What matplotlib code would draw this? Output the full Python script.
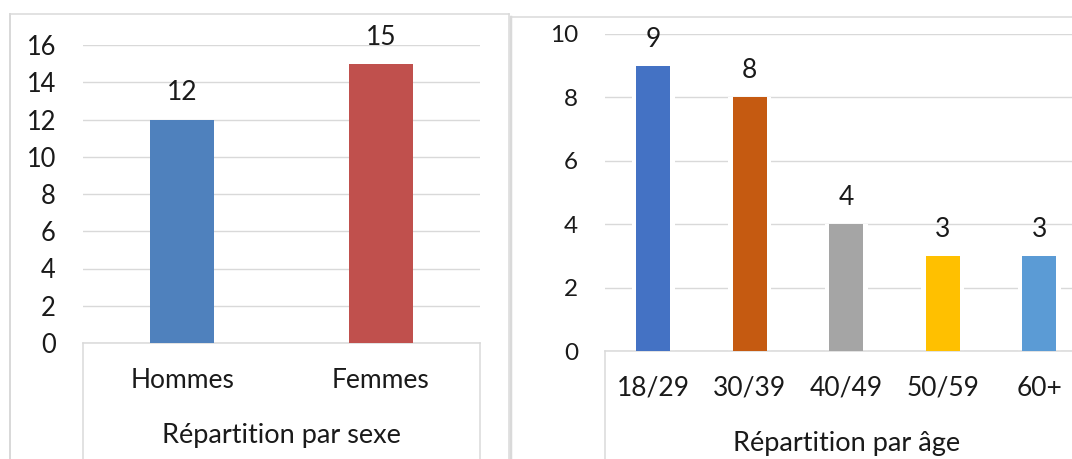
import matplotlib.pyplot as plt
from matplotlib.lines import Line2D

plt.rcParams['font.family'] = ['Lato', 'DejaVu Sans']

# Données
sexe_labels = ["Hommes", "Femmes"]
sexe_valeurs = [12, 15]
sexe_couleurs = ["#4F81BD", "#C0504D"]

age_labels = ["18/29", "30/39", "40/49", "50/59", "60+"]
age_valeurs = [9, 8, 4, 3, 3]
age_couleurs = ["#4472C4", "#C55A11", "#A5A5A5", "#FFC000", "#5B9BD5"]

W, H = 1072, 459
GRIS = "#D9D9D9"
TEXTE = "#1a1a1a"
PT = 0.72  # px -> points à 100 dpi

fig = plt.figure(figsize=(W / 100, H / 100), dpi=100)


def fx(px):
    return px / W


def fy(py):
    return 1 - py / H


def ligne(x0, y0, x1, y1, lw=1.5):
    fig.add_artist(Line2D([fx(x0), fx(x1)], [fy(y0), fy(y1)], color=GRIS,
                          lw=lw * PT, transform=fig.transFigure))


def panneau(x0, x1, y_top, y_zero, ymax, pas, cats, vals, couleurs, largeur,
            titre, fs_y, marge=0.0):
    ax = fig.add_axes([fx(x0), fy(y_zero), (x1 - x0) / W, (y_zero - y_top) / H])
    pos = list(range(len(cats)))
    if marge:
        # liseré blanc autour des barres (coupe le quadrillage)
        ax.bar(pos, vals, width=largeur + marge, color="white", zorder=2)
    ax.bar(pos, vals, width=largeur, color=couleurs, zorder=3)
    ax.set_xlim(-0.5, len(cats) - 0.5)
    ax.set_ylim(0, ymax)
    ax.set_yticks(range(0, ymax + 1, pas))
    ax.set_xticks([])
    ax.yaxis.grid(True, color=GRIS, lw=1.4 * PT, zorder=1)
    ax.set_axisbelow(True)
    for s in ["top", "left", "right"]:
        ax.spines[s].set_visible(False)
    ax.spines["bottom"].set_color(GRIS)
    ax.spines["bottom"].set_linewidth(1.5 * PT)
    ax.tick_params(axis="y", length=0, pad=27 * PT, labelsize=fs_y, labelcolor=TEXTE)
    for i, v in enumerate(vals):
        ax.annotate(str(v), (i, v), xytext=(0, 19 * PT), textcoords="offset points",
                    ha="center", va="baseline", fontsize=19, color=TEXTE)
        ax.annotate(cats[i], (i, 0), xycoords=("data", "axes fraction"),
                    xytext=(0, -45 * PT), textcoords="offset points",
                    ha="center", va="baseline", fontsize=19, color=TEXTE,
                    annotation_clip=False)
    ax.annotate(titre, (0.5, 0), xycoords="axes fraction", xytext=(0, -100 * PT),
                textcoords="offset points", ha="center", va="baseline",
                fontsize=19.5, color=TEXTE, annotation_clip=False)
    return ax


# Panneau gauche : répartition par sexe
panneau(83, 480, 45, 343, 16, 2, sexe_labels, sexe_valeurs, sexe_couleurs, 0.32,
        "Répartition par sexe", 18.4)
ligne(83, 343, 83, 470)
ligne(480, 343, 480, 470)
ligne(10, 14, 509, 14)
ligne(10, 14, 10, 470, lw=2)
ligne(509, 14, 509, 470)

# Panneau droit : répartition par âge
panneau(605, 1087.5, 34, 351, 10, 2, age_labels, age_valeurs, age_couleurs, 0.357,
        "Répartition par âge", 17.5, marge=0.09)
ligne(605, 351, 605, 470)
ligne(511, 17, 1080, 17)
ligne(511, 17, 511, 470, lw=2.5)

fig.savefig("out.png", dpi=100)
